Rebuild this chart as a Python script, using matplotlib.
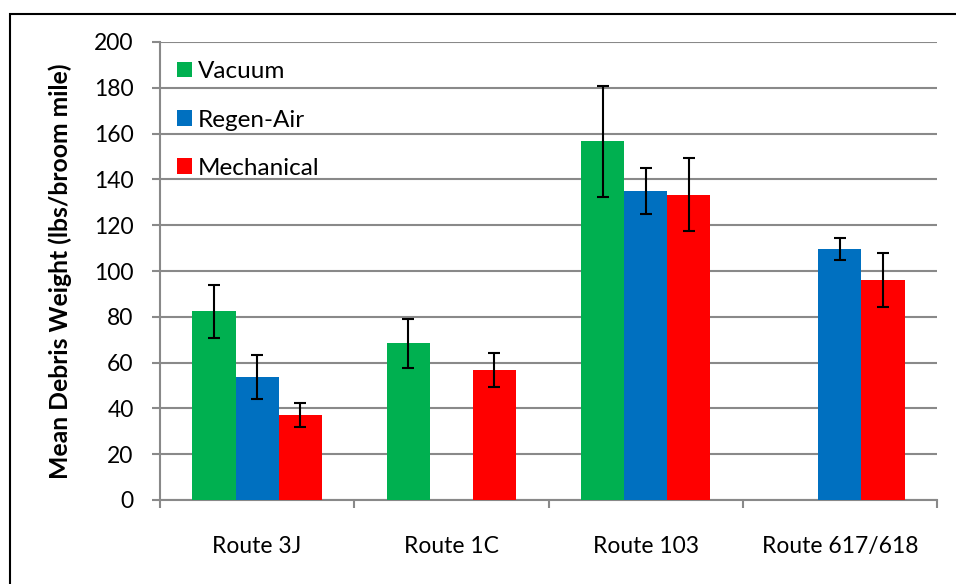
import numpy as np
import matplotlib
matplotlib.use('Agg')
import matplotlib.pyplot as plt
from matplotlib.patches import Rectangle

# ── Data ──────────────────────────────────────────────────────────────────────
routes     = ['Route 3J', 'Route 1C', 'Route 103', 'Route 617/618']
series     = ['Vacuum', 'Regen-Air', 'Mechanical']
vacuum     = [82.4, 68.4, 156.7, np.nan]
vacuum_err = [11.5, 10.8, 24.3, np.nan]
regen      = [53.6, np.nan, 135.0, 109.8]
regen_err  = [9.6, np.nan, 9.9, 4.8]
mech       = [37.0, 56.8, 133.3, 96.0]
mech_err   = [5.2, 7.5, 16.0, 11.7]
yticks     = [0, 20, 40, 60, 80, 100, 120, 140, 160, 180, 200]

COLORS = ['#00B050', '#0070C0', '#FF0000']
GRID   = '#898989'

plt.rcParams['font.family'] = ['Lato', 'DejaVu Sans']

W, H = 956, 584
fig = plt.figure(figsize=(W / 100, H / 100), dpi=100)
ax = fig.add_axes([160 / W, (H - 500) / H, (937 - 160) / W, (500 - 42) / H])

x = np.arange(len(routes))
bw = 0.222
values = [vacuum, regen, mech]
errors = [vacuum_err, regen_err, mech_err]
for i, (name, vals, errs, col) in enumerate(zip(series, values, errors, COLORS)):
    vals = np.array(vals, dtype=float)
    errs = np.array(errs, dtype=float)
    ok = ~np.isnan(vals)
    xs = x[ok] + (i - 1) * bw
    ax.bar(xs, vals[ok], width=bw, color=col, label=name, zorder=3)
    ax.errorbar(xs, vals[ok], yerr=errs[ok], fmt='none', ecolor='black',
                elinewidth=1.5, capsize=4.5, capthick=1.5, zorder=4)

ax.set_xlim(-0.5, len(routes) - 0.5)
ax.set_ylim(0, 200)
ax.set_yticks(yticks)
ax.yaxis.grid(True, color=GRID, lw=1.5, zorder=0)
ax.set_axisbelow(True)

ax.set_xticks(x)
ax.set_xticklabels(routes, fontsize=16.5)
ax.set_xticks(np.arange(len(routes) + 1) - 0.5, minor=True)
ax.tick_params(axis='x', which='major', length=0, pad=26)
ax.tick_params(axis='x', which='minor', length=6, width=1.5, color=GRID, direction='out')
ax.tick_params(axis='y', length=6, width=1.5, color=GRID, pad=13, labelsize=16.5)

for s in ['top', 'right']:
    ax.spines[s].set_visible(False)
for s in ['left', 'bottom']:
    ax.spines[s].set_color(GRID)
    ax.spines[s].set_linewidth(1.5)

ax.set_ylabel('Mean Debris Weight (lbs/broom mile)', fontsize=17.8, fontweight='bold')
ax.yaxis.set_label_coords(-0.113, 0.5)

ax.legend(loc='upper left', frameon=False, fontsize=17.5, handlelength=0.6,
          handleheight=0.6, handletextpad=0.25, labelspacing=1.12,
          bbox_to_anchor=(0.0, 0.995), borderaxespad=0.3)

# chart area border
fig.add_artist(Rectangle((10 / W, -0.1), 2, (H - 14) / H + 0.1,
                         transform=fig.transFigure, fill=False,
                         lw=1.5, ec='black'))

plt.savefig('out.png', dpi=100)
plt.close()
